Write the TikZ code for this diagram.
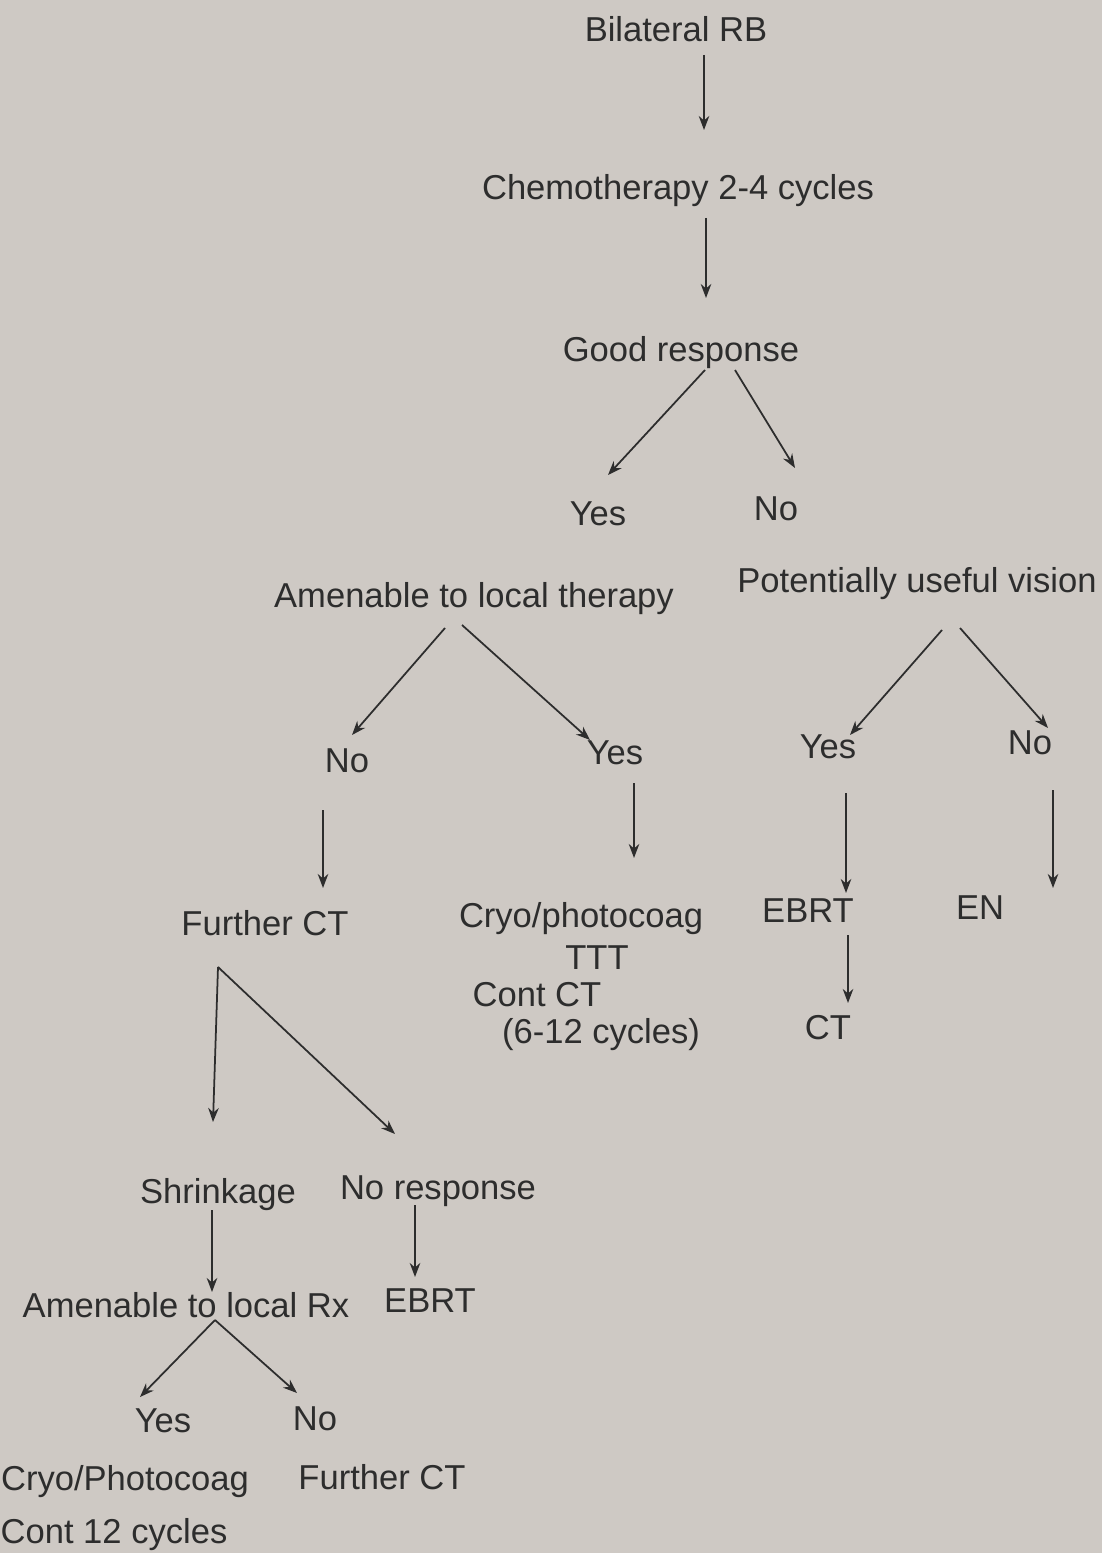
\documentclass[tikz,border=0pt]{standalone}
\usepackage{fontspec}
\setmainfont{Liberation Sans}
\usetikzlibrary{arrows.meta}
\definecolor{paper}{RGB}{206,201,196}
\definecolor{ink}{RGB}{45,45,45}
\begin{document}
\begin{tikzpicture}[x=0.03cm,y=-0.03cm,
  lbl/.style={anchor=base,inner sep=0pt,text=ink,font=\fontsize{29.5}{35}\selectfont},
  arr/.style={draw=ink,line width=1.5pt,-{Stealth[length=12pt,width=9pt]}}]
\fill[paper] (0,0) rectangle (1102,1553);
\useasboundingbox (0,0) rectangle (1102,1553);
% nodes (placed at baseline)
\node[lbl] (brb)   at (676,42)   {Bilateral RB};
\node[lbl] (chemo) at (678,200)  {Chemotherapy 2-4 cycles};
\node[lbl] (good)  at (681,362)  {Good response};
\node[lbl] (yes1)  at (598,525)  {Yes};
\node[lbl] (no1)   at (776,520)  {No};
\node[lbl] (amen)  at (474,607)  {Amenable to local therapy};
\node[lbl] (pot)   at (917,592)  {Potentially useful vision};
\node[lbl] (no2)   at (347,772)  {No};
\node[lbl] (yes2)  at (615,764)  {Yes};
\node[lbl] (yes3)  at (828,758)  {Yes};
\node[lbl] (no3)   at (1030,754) {No};
\node[lbl] (fct)   at (265,935)  {Further CT};
\node[lbl] (cryo)  at (581,927)  {Cryo/photocoag};
\node[lbl] (ttt)   at (597,969)  {TTT};
\node[lbl] (contct) at (537,1006) {Cont CT};
\node[lbl] (cyc)   at (601,1043) {(6-12 cycles)};
\node[lbl] (ebrt1) at (808,922)  {EBRT};
\node[lbl] (en)    at (980,919)  {EN};
\node[lbl] (ct)    at (828,1039) {CT};
\node[lbl] (shr)   at (218,1203) {Shrinkage};
\node[lbl] (nores) at (438,1199) {No response};
\node[lbl] (amrx)  at (186,1317) {Amenable to local Rx};
\node[lbl] (ebrt2) at (430,1312) {EBRT};
\node[lbl] (yes4)  at (163,1432) {Yes};
\node[lbl] (no4)   at (315,1430) {No};
\node[lbl] (cryo2) at (125,1490) {Cryo/Photocoag};
\node[lbl] (fct2)  at (382,1489) {Further CT};
\node[lbl] (cont12) at (114,1543) {Cont 12 cycles};
% connectors
\draw[arr] ([shift={(28,13)}]brb.base) -- ([shift={(26,-70)}]chemo.base);
\draw[arr] ([shift={(28,18)}]chemo.base) -- ([shift={(25,-64)}]good.base);
\draw[arr] ([shift={(24,8)}]good.base) -- ([shift={(10,-50)}]yes1.base);
\draw[arr] ([shift={(54,8)}]good.base) -- ([shift={(19,-52)}]no1.base);
\draw[arr] ([shift={(-29,21)}]amen.base) -- ([shift={(5,-37)}]no2.base);
\draw[arr] ([shift={(-12,18)}]amen.base) -- ([shift={(-25,-24)}]yes2.base);
\draw[arr] ([shift={(25,38)}]pot.base) -- ([shift={(22,-23)}]yes3.base);
\draw[arr] ([shift={(43,36)}]pot.base) -- ([shift={(18,-26)}]no3.base);
\draw[arr] ([shift={(-24,38)}]no2.base) -- ([shift={(58,-47)}]fct.base);
\draw[arr] ([shift={(19,19)}]yes2.base) -- ([shift={(53,-69)}]cryo.base);
\draw[arr] ([shift={(18,35)}]yes3.base) -- ([shift={(38,-29)}]ebrt1.base);
\draw[arr] ([shift={(23,36)}]no3.base) -- ([shift={(73,-31)}]en.base);
\draw[arr] ([shift={(40,13)}]ebrt1.base) -- ([shift={(20,-36)}]ct.base);
\draw[arr] ([shift={(-47,32)}]fct.base) -- ([shift={(-5,-81)}]shr.base);
\draw[arr] ([shift={(-47,32)}]fct.base) -- ([shift={(-43,-65)}]nores.base);
\draw[arr] ([shift={(-6,7)}]shr.base) -- ([shift={(26,-25)}]amrx.base);
\draw[arr] ([shift={(-23,6)}]nores.base) -- ([shift={(-15,-35)}]ebrt2.base);
\draw[arr] ([shift={(29,3)}]amrx.base) -- ([shift={(-23,-35)}]yes4.base);
\draw[arr] ([shift={(29,3)}]amrx.base) -- ([shift={(-18,-37)}]no4.base);
\end{tikzpicture}
\end{document}
